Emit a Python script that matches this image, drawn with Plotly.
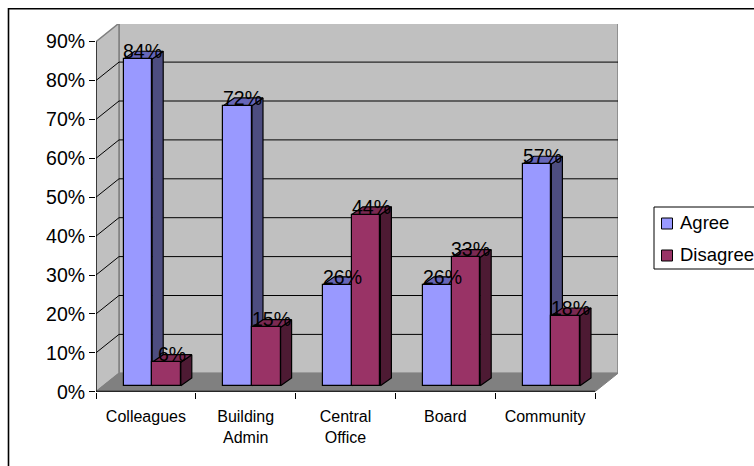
import plotly.graph_objects as go

categories = ["Colleagues", "Building<br>Admin", "Central<br>Office", "Board", "Community"]
agree = [84, 72, 26, 26, 57]
disagree = [6, 15, 44, 33, 18]
series_names = ["Agree", "Disagree"]
series_colors = ["#9999FF", "#993366"]
y_ticks = [0, 10, 20, 30, 40, 50, 60, 70, 80, 90]

W, H = 754, 466
PX0, PX1, PY0, PY1 = 96, 618, 391.7, 24   # page pixels of the plot box
UX = 99.8            # px per category
UY = 3.89            # px per percent
DX, DY = (PX1 - PX0 - 5 * UX) / UX, 18.4 / UY     # wall depth offset
BW = 28.6 / UX       # bar width
BX = 27.6 / UX       # first bar offset
LIFT = 6 / UY
TX, TY = 11 / UX, 7.7 / UY   # bar depth offset

def px(x):
    return x / W

def py(y):
    return 1 - y / H

fig = go.Figure()
z = [0]

def nz():
    z[0] += 1
    return z[0]

def poly(xs, ys, fill, line="rgba(0,0,0,0)", lw=0):
    fig.add_trace(go.Scatter(x=xs, y=ys, mode="lines", fill="toself", fillcolor=fill,
                             line=dict(color=line, width=lw), hoverinfo="skip",
                             showlegend=False, cliponaxis=False, zorder=nz()))

def seg(xs, ys, color="#000000", lw=1):
    fig.add_trace(go.Scatter(x=xs, y=ys, mode="lines", line=dict(color=color, width=lw),
                             hoverinfo="skip", showlegend=False, cliponaxis=False, zorder=nz()))

top = y_ticks[-1]
# walls and floor
poly([DX, 5 + DX, 5 + DX, DX, DX], [DY, DY, top + DY, top + DY, DY], "#C0C0C0", "#808080", 1.5)
poly([0, DX, DX, 0, 0], [0, DY, top + DY, top, 0], "#C0C0C0", "#808080", 1.5)
# gridlines
for t in y_ticks[1:-1]:
    seg([0, DX, 5 + DX], [t, t + DY, t + DY], "#000000", 1)
poly([0, 5, 5 + DX, DX, 0], [0, 0, DY, DY, 0], "#808080", "#808080", 1)

# bars
for i in range(5):
    for j, (vals, front, side, topc) in enumerate([(agree, series_colors[0], "#4D4D80", "#6666B8"),
                                                   (disagree, series_colors[1], "#4D1A33", "#7A2952")]):
        v = vals[i]
        x0 = i + BX + j * BW
        x1 = x0 + BW
        yb, yt = LIFT, LIFT + v
        poly([x1, x1 + TX, x1 + TX, x1, x1], [yb, yb + TY, yt + TY, yt, yb], side, "#000000", 1.2)
        poly([x0, x1, x1 + TX, x0 + TX, x0], [yt, yt, yt + TY, yt + TY, yt], topc, "#000000", 1.2)
        fig.add_trace(go.Bar(x=[(x0 + x1) / 2], y=[v], base=[yb], width=[BW],
                             marker=dict(color=front, line=dict(color="#000000", width=1.2)),
                             hoverinfo="skip", showlegend=False, zorder=nz()))
        fig.add_annotation(x=(x0 + x1) / 2 + 5 / UX, y=yt + 8 / UY, text=f"{v}%", showarrow=False,
                           xanchor="center", yanchor="middle",
                           font=dict(family="Liberation Sans", size=19.5, color="#000000"))

# axes lines
seg([0, 5], [0, 0], "#000000", 2)
seg([0, 0], [0, top], "#000000", 1.2)

# chart outer border (runs off the right and bottom of the window)
fig.add_shape(type="rect", xref="paper", yref="paper", x0=px(8.5), x1=px(800), y0=py(800), y1=py(8.8),
              line=dict(color="#000000", width=1.6), layer="below")

# legend box, swatches and labels
fig.add_shape(type="rect", xref="paper", yref="paper", x0=px(654), x1=px(800), y0=py(269), y1=py(207),
              line=dict(color="#000000", width=1), fillcolor="#FFFFFF", layer="above")
for name, color, y_c in zip(series_names, series_colors, [223.5, 255.5]):
    fig.add_shape(type="rect", xref="paper", yref="paper", x0=px(661.5), x1=px(672.5),
                  y0=py(y_c + 5.5), y1=py(y_c - 5.5),
                  line=dict(color="#000000", width=1), fillcolor=color, layer="above")
    fig.add_annotation(xref="paper", yref="paper", x=px(677.5), y=py(y_c - 1), text=name, showarrow=False,
                       xanchor="left", yanchor="middle",
                       font=dict(family="Liberation Sans", size=18.5, color="#000000"))

fig.update_layout(
    width=W, height=H, autosize=False, showlegend=False,
    margin=dict(l=0, r=0, t=0, b=0, pad=0),
    paper_bgcolor="#FFFFFF", plot_bgcolor="rgba(0,0,0,0)",
    barmode="overlay", bargap=0,
    font=dict(family="Liberation Sans", color="#000000"),
    xaxis=dict(domain=[px(PX0), px(PX1)], range=[0, 5 + DX], tickmode="array", automargin=False,
               tickvals=[i + 0.5 for i in range(5)],
               ticktext=categories, ticklen=10, tickcolor="rgba(0,0,0,0)", ticks="outside",
               showgrid=False, zeroline=False, showline=False,
               tickfont=dict(size=16), tickangle=0,
               minor=dict(tickmode="array", tickvals=list(range(6)), ticks="outside", ticklen=6,
                          tickcolor="#000000", showgrid=False)),
    yaxis=dict(domain=[py(PY0), py(PY1)], range=[0, (PY0 - PY1) / UY], tickmode="array", tickvals=y_ticks,
               automargin=False,
               ticktext=[f"{t}%" for t in y_ticks], ticks="outside", ticklen=6, tickcolor="#000000",
               showgrid=False, zeroline=False, showline=False, tickfont=dict(size=19.5)),
)

fig.write_html("out.html", config={"displayModeBar": False}, post_script="document.body.style.margin='0';")
